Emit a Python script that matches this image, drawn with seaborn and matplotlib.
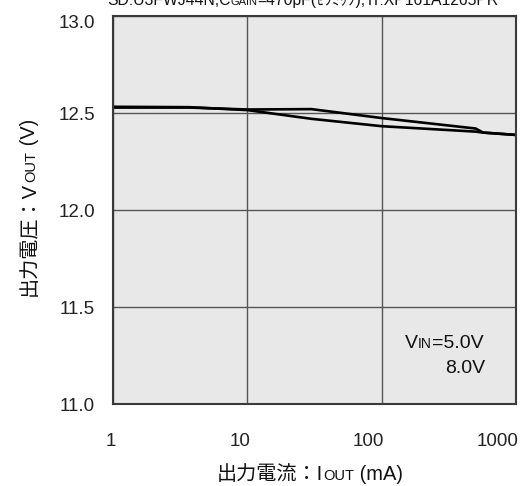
import numpy as np
import pandas as pd
import matplotlib
matplotlib.use("Agg")
import matplotlib.pyplot as plt
import matplotlib.transforms as mtransforms
import seaborn as sns

# values
iout_ma = [1, 3.7, 10, 30, 100, 500, 570, 1000]
vout_upper = [12.528, 12.528, 12.518, 12.52, 12.474, 12.42, 12.399, 12.387]
vout_lower = [12.532, 12.53, 12.515, 12.47, 12.432, 12.404, 12.399, 12.387]
series_names = ["5.0V", "8.0V"]
x_ticks = [1, 10, 100, 1000]
x_tick_labels = ["1", "10", "100", "1000"]
y_ticks = [11.0, 11.5, 12.0, 12.5, 13.0]

df = pd.DataFrame({
    "IOUT": iout_ma * 2,
    "VOUT": vout_upper + vout_lower,
    "VIN": [series_names[0]] * len(iout_ma) + [series_names[1]] * len(iout_ma),
})

sns.set_style("white")
plt.rcParams['font.family'] = ['Liberation Sans', 'Noto Sans CJK JP', 'DejaVu Sans']

W, H = 524, 486
fig = plt.figure(figsize=(W / 100, H / 100), dpi=100)
ax = fig.add_axes([113 / W, 1 - 404 / H, (516 - 113) / W, (404 - 16) / H])
ax.set_facecolor("#e8e8e8")

sns.lineplot(data=df, x="IOUT", y="VOUT", hue="VIN", palette=["black", "black"],
             linewidth=1.9, legend=False, errorbar=None, ax=ax)

ax.set_xscale("log")
ax.set_xlim(1, 1000)
ax.set_ylim(11.0, 13.0)
ax.set_xticks(x_ticks)
ax.set_xticklabels(x_tick_labels)
ax.set_yticks(y_ticks)
ax.set_yticklabels([f"{v:.1f}" for v in y_ticks])
ax.minorticks_off()
ax.tick_params(axis="x", length=0, pad=21, labelsize=13.5, labelcolor="#222222")
ax.tick_params(axis="y", length=0, pad=13, labelsize=13.5, labelcolor="#222222")
# x labels sit right-aligned just past their tick in the reference
shift = mtransforms.ScaledTranslation(2 / 72, 0, fig.dpi_scale_trans)
for lab in ax.get_xticklabels():
    lab.set_horizontalalignment("right")
    lab.set_transform(lab.get_transform() + shift)
# top y label is nudged down a little
top_lab = ax.get_yticklabels()[-1]
top_lab.set_transform(top_lab.get_transform()
                      + mtransforms.ScaledTranslation(0, -4 / 72, fig.dpi_scale_trans))
ax.set_xlabel("")
ax.set_ylabel("")
ax.grid(True, color="#555555", linewidth=1.0)
for sp in ax.spines.values():
    sp.set_color("#3a3a3a")
    sp.set_linewidth(1.5)


def rich_text(x, y, pieces, rotation=0, align="center"):
    # x, y in pixels from top-left; pieces are (text, fontsize)
    renderer = fig.canvas.get_renderer()
    arts = []
    total = 0
    for s, size in pieces:
        t = fig.text(0, 0, s, fontsize=size, rotation=rotation, rotation_mode="anchor",
                     ha="left", va="baseline", color="#111111")
        bb = t.get_window_extent(renderer)
        length = bb.width if rotation == 0 else bb.height
        arts.append((t, length))
        total += length
    offset = {"left": 0, "center": -total / 2, "right": -total}[align]
    yb = H - y
    for t, length in arts:
        if rotation == 0:
            t.set_position(((x + offset) / W, yb / H))
        else:
            t.set_position((x / W, (yb + offset) / H))
        offset += length


rich_text(303, 5, [("SD:U3FWJ44N,C", 11.3), ("GAIN", 8),
                   ("=470pF(ｾﾗﾐｯｸ),Tr:XP161A1265PR", 11.3)])
rich_text(310, 480, [("出力電流：I", 14.5), ("OUT", 10.5), (" (mA)", 14.5)])
rich_text(35, 207, [("出力電圧：V", 14.5), ("OUT", 10.5), (" (V)", 14.5)], rotation=90)
rich_text(405, 348, [("V", 14), ("IN", 10), ("=5.0V", 14)], align="left")
rich_text(485, 373, [("8.0V", 14)], align="right")

fig.savefig("out.png", dpi=100)
